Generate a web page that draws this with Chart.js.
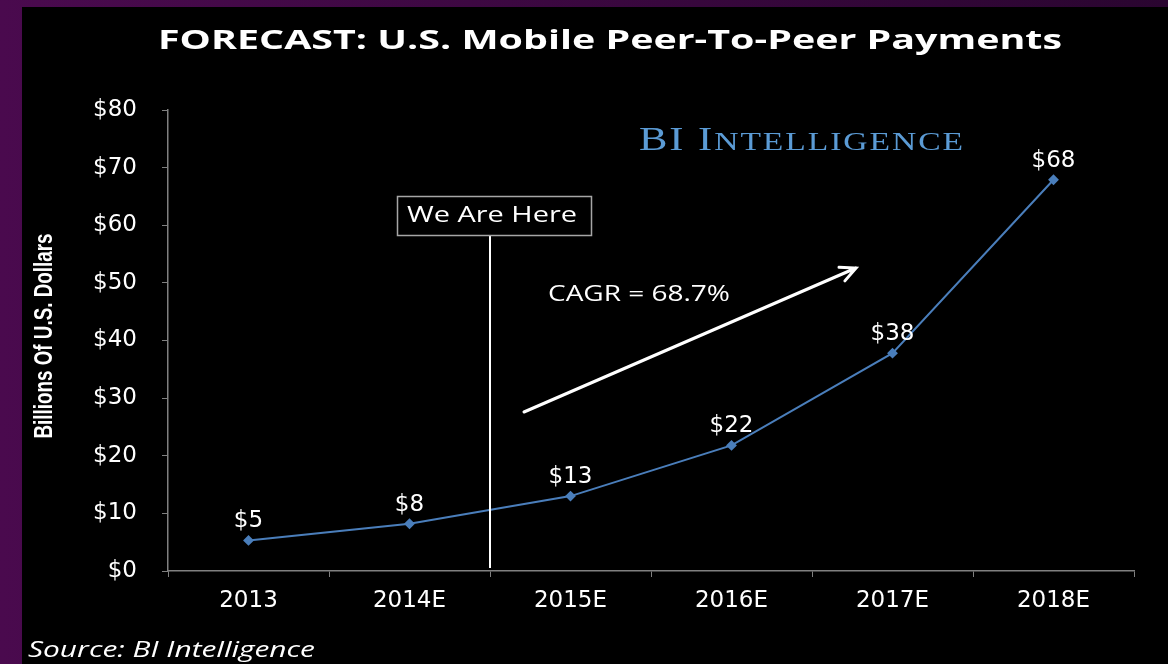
<!DOCTYPE html>
<html>
<head>
<meta charset="utf-8">
<script src="https://cdn.jsdelivr.net/npm/chart.js@4"></script>
<style>
  html, body { margin: 0; padding: 0; background: #000; }
  #wrap { position: relative; width: 1168px; height: 664px; }
</style>
</head>
<body>
<div id="wrap"><canvas id="chart" width="1168" height="664"></canvas></div>
<script>
// --- data ---
const years = ["2013", "2014E", "2015E", "2016E", "2017E", "2018E"];
const payments = [5.3, 8.2, 13.0, 21.8, 37.8, 67.9];   // billions of US dollars
const valueLabels = ["$5", "$8", "$13", "$22", "$38", "$68"];
const yTicks = [0, 10, 20, 30, 40, 50, 60, 70, 80];

const titleText = "FORECAST: U.S. Mobile Peer-To-Peer Payments";
const yTitleText = "Billions Of U.S. Dollars";
const sourceText = "Source: BI Intelligence";
const cagrText = "CAGR = 68.7%";
const hereText = "We Are Here";

const numFont = "DejaVu Sans";

// draw a text squeezed/stretched to a given width
function fitText(ctx, text, font, x, y, w, align) {
    ctx.save();
    ctx.font = font;
    const m = ctx.measureText(text).width;
    const sx = w / m;
    ctx.translate(align === "center" ? x - w / 2 : x, y);
    ctx.scale(sx, 1);
    ctx.textAlign = "left";
    ctx.textBaseline = "middle";
    ctx.fillText(text, 0, 0);
    ctx.restore();
}

// background: purple frame + black slide
const background = {
    id: "background",
    beforeDraw(chart) {
        const ctx = chart.ctx;
        ctx.save();
        const g = ctx.createLinearGradient(0, 0, 1168, 0);
        g.addColorStop(0, "#4a0a4e");
        g.addColorStop(1, "#2a0530");
        ctx.fillStyle = g;
        ctx.fillRect(0, 0, 1168, 664);
        ctx.fillStyle = "#000";
        ctx.fillRect(22, 7, 1146, 657);
        ctx.restore();
    }
};

// titles, labels, annotations
const extras = {
    id: "extras",
    afterDraw(chart) {
        const ctx = chart.ctx;
        const x = chart.scales.x;
        const meta = chart.getDatasetMeta(0);

        ctx.save();
        ctx.fillStyle = "#fff";

        // title
        fitText(ctx, titleText, "bold 27px 'Open Sans'", 610, 41, 904, "center");

        // y axis title (rotated)
        ctx.save();
        ctx.translate(45, 336);
        ctx.rotate(-Math.PI / 2);
        fitText(ctx, yTitleText, "bold 26px 'Liberation Sans Narrow', 'Liberation Sans'", 0, 0, 205, "center");
        ctx.restore();

        // source
        fitText(ctx, sourceText, "italic 21px 'Open Sans'", 28, 651, 287, "left");

        // BI Intelligence logo (small caps, stretched to 324px)
        ctx.save();
        ctx.fillStyle = "#5b9bd5";
        ctx.textBaseline = "alphabetic";
        const glyphs = [];
        for (const [t, s] of [["BI", 33], [" ", 33], ["I", 33], ["NTELLIGENCE", 26]]) {
            for (const ch of t) glyphs.push([ch, s + "px 'Liberation Serif'"]);
        }
        const gap = 1.5;
        let total = 0;
        for (const [ch, f] of glyphs) { ctx.font = f; total += ctx.measureText(ch).width + gap; }
        ctx.translate(639, 150);
        ctx.scale(324 / (total - gap), 1);
        let lx = 0;
        for (const [ch, f] of glyphs) {
            ctx.font = f;
            ctx.fillText(ch, lx, 0);
            lx += ctx.measureText(ch).width + gap;
        }
        ctx.restore();

        // value labels above points
        ctx.fillStyle = "#fff";
        ctx.font = "23px '" + numFont + "'";
        ctx.textAlign = "center";
        ctx.textBaseline = "middle";
        meta.data.forEach((pt, i) => {
            ctx.fillText(valueLabels[i], pt.x, pt.y - 19);
        });

        // "We Are Here" marker between 2014E and 2015E
        const hx = (x.getPixelForValue(1) + x.getPixelForValue(2)) / 2;
        ctx.strokeStyle = "#fff";
        ctx.lineWidth = 2;
        ctx.beginPath();
        ctx.moveTo(hx, 235);
        ctx.lineTo(hx, chart.chartArea.bottom - 3);
        ctx.stroke();
        ctx.strokeStyle = "#a6a6a6";
        ctx.lineWidth = 1.5;
        ctx.strokeRect(397.5, 196.5, 194, 39);
        fitText(ctx, hereText, "21px 'Open Sans'", 492, 216, 170, "center");

        // CAGR arrow
        const ax0 = 524, ay0 = 412, ax1 = 856, ay1 = 268;
        const ang = Math.atan2(ay1 - ay0, ax1 - ax0);
        ctx.strokeStyle = "#fff";
        ctx.lineWidth = 3;
        ctx.lineCap = "round";
        ctx.beginPath();
        ctx.moveTo(ax0, ay0);
        ctx.lineTo(ax1, ay1);
        ctx.moveTo(ax1 - 17 * Math.cos(ang - 0.45), ay1 - 17 * Math.sin(ang - 0.45));
        ctx.lineTo(ax1, ay1);
        ctx.lineTo(ax1 - 17 * Math.cos(ang + 0.45), ay1 - 17 * Math.sin(ang + 0.45));
        ctx.stroke();
        fitText(ctx, cagrText, "21px 'Open Sans'", 548, 295, 182, "left");

        ctx.restore();
    }
};

new Chart(document.getElementById("chart"), {
    type: "line",
    data: {
        labels: years,
        datasets: [{
            data: payments,
            borderColor: "#4a7ebb",
            backgroundColor: "#4a7ebb",
            borderWidth: 2,
            pointStyle: "rectRot",
            pointRadius: 4,
            tension: 0
        }]
    },
    options: {
        responsive: false,
        animation: false,
        layout: { padding: { top: 110, right: 34, left: 0, bottom: 0 } },
        plugins: { legend: { display: false }, tooltip: { enabled: false } },
        scales: {
            x: {
                offset: true,
                grid: { offset: true, drawOnChartArea: false, color: "#808080", tickLength: 6 },
                border: { color: "#808080", width: 1.5 },
                ticks: { color: "#fff", padding: 10, font: { family: numFont, size: 23 } },
                afterFit(scale) { scale.height = 93; }
            },
            y: {
                min: yTicks[0],
                max: yTicks[yTicks.length - 1],
                afterBuildTicks(scale) { scale.ticks = yTicks.map(v => ({ value: v })); },
                grid: { drawOnChartArea: false, color: "#808080", tickLength: 6 },
                border: { color: "#808080", width: 1.5 },
                ticks: {
                    color: "#fff",
                    padding: 25,
                    font: { family: numFont, size: 23 },
                    callback: v => "$" + v
                },
                afterFit(scale) { scale.width = 168; }
            }
        }
    },
    plugins: [background, extras]
});
</script>
</body>
</html>
